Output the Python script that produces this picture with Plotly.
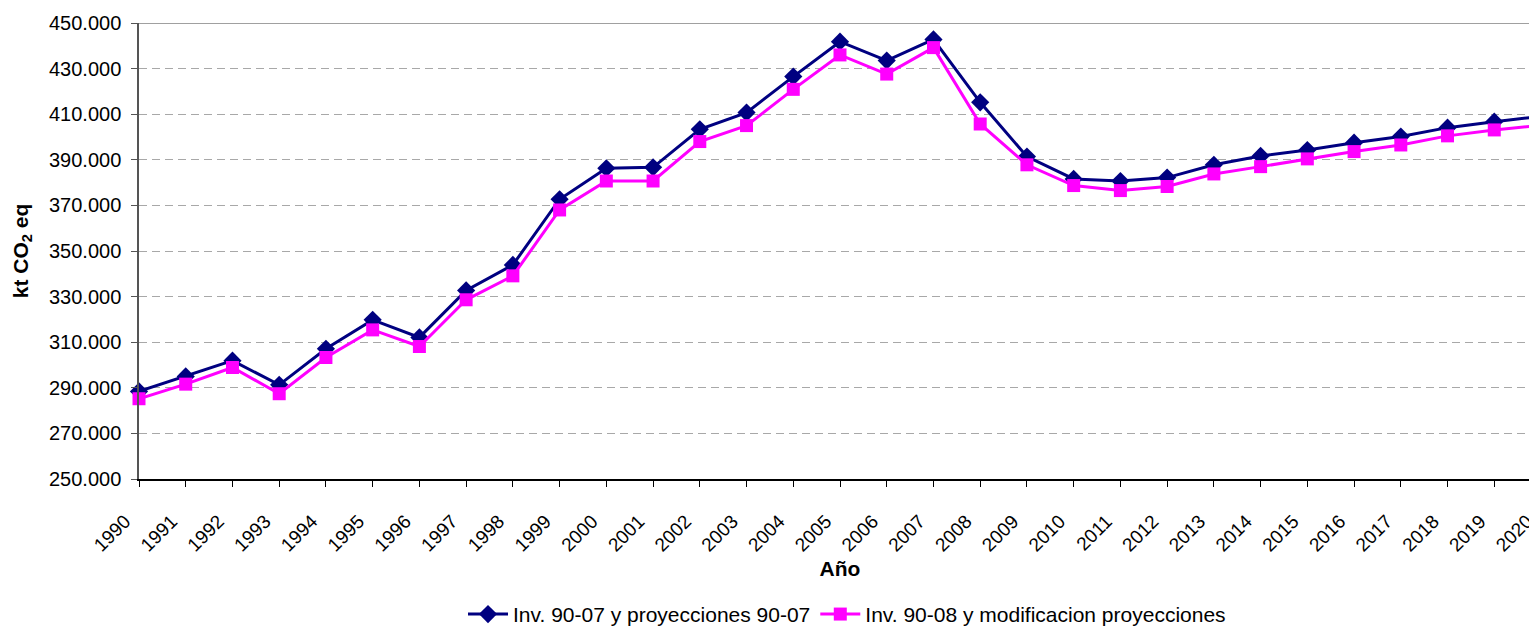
import plotly.graph_objects as go

years = list(range(1990, 2021))
inv_90_07 = [288.4, 295.0, 301.9, 291.3, 307.1, 319.8, 312.1, 332.7, 343.9, 372.7,
             386.3, 386.7, 403.4, 410.7, 426.5, 441.8, 433.5, 442.8, 415.2, 391.4,
             381.6, 380.7, 382.2, 387.8, 391.7, 394.3, 397.5, 400.2, 404.1, 406.7, 409.1]
inv_90_08 = [285.2, 291.6, 298.9, 287.4, 303.3, 315.4, 308.1, 328.6, 339.1, 368.0,
             380.7, 380.7, 398.0, 405.0, 420.9, 436.0, 427.6, 439.2, 405.7, 387.8,
             378.7, 376.5, 378.3, 383.8, 387.0, 390.4, 393.6, 396.5, 400.5, 403.1, 405.1]
inv_90_07 = [v * 1000 for v in inv_90_07]
inv_90_08 = [v * 1000 for v in inv_90_08]
y_ticks = list(range(250000, 450001, 20000))

FONT = "Liberation Sans, Arial, sans-serif"

fig = go.Figure()
fig.add_trace(go.Scatter(
    x=years, y=inv_90_07, mode="lines+markers",
    name="Inv. 90-07 y proyecciones 90-07",
    line=dict(color="#000080", width=3),
    marker=dict(symbol="diamond", size=14, color="#000080"),
    cliponaxis=False,
))
fig.add_trace(go.Scatter(
    x=years, y=inv_90_08, mode="lines+markers",
    name="Inv. 90-08 y modificacion proyecciones",
    line=dict(color="#FF00FF", width=3),
    marker=dict(symbol="square", size=13, color="#FF00FF"),
    cliponaxis=False,
))

fig.add_shape(type="line", xref="paper", yref="y", x0=0, x1=1, y0=450000, y1=450000,
              line=dict(color="#a0a0a0", width=2), layer="below")

fig.update_layout(
    width=1537, height=623,
    margin=dict(l=131, r=4, t=15, b=152, autoexpand=False),
    paper_bgcolor="white", plot_bgcolor="white",
    separators=",.",
    font=dict(family=FONT, size=20, color="black"),
    showlegend=True,
    legend=dict(orientation="h", x=0.505, xanchor="center", y=-0.252, yanchor="top",
                font=dict(size=21), itemwidth=40, tracegroupgap=0),
    xaxis=dict(
        range=[1990, 2020], tickmode="array", tickvals=years,
        ticktext=[str(y) for y in years], tickangle=-45,
        ticks="outside", ticklen=6, tickcolor="black",
        ticklabelstandoff=16, ticklabelshift=-14,
        showline=True, linecolor="black", linewidth=1.5,
        showgrid=False, zeroline=False, automargin=False,
        tickfont=dict(size=19),
        title=dict(text="<b>Año</b>", font=dict(size=21), standoff=7),
    ),
    yaxis=dict(
        range=[250000, 450000], tickmode="array", tickvals=y_ticks,
        tickformat=",d",
        ticks="outside", ticklen=6, tickcolor="#555555",
        ticklabelstandoff=6,
        showline=True, linecolor="#555555", linewidth=1.5,
        showgrid=True, gridcolor="#a8a8a8", griddash="8px,5px", gridwidth=1,
        zeroline=False, automargin=False,
        tickfont=dict(size=20),
        title=dict(text="<b>kt CO<sub>2</sub> eq</b>", font=dict(size=21), standoff=15),
    ),
)

fig.write_html("out.html")
